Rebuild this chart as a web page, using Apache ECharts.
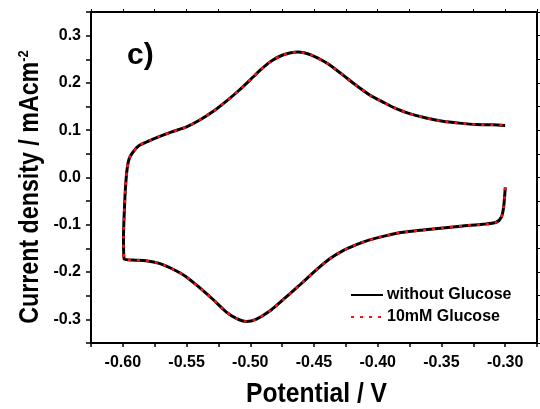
<!DOCTYPE html>
<html>
<head>
<meta charset="utf-8">
<script src="https://cdn.jsdelivr.net/npm/echarts@6/dist/echarts.min.js"></script>
<style>
html,body{margin:0;padding:0;background:#fff;}
#chart{width:540px;height:409px;}
</style>
</head>
<body>
<div id="chart"></div>
<script>
// Potential (V) along the scan, starting at the lower-right end
const potential = [
  -0.2999, -0.3012, -0.3030, -0.3070, -0.3175, -0.3331, -0.3488, -0.3645, -0.3802, -0.3933,
  -0.4063, -0.4167, -0.4272, -0.4377, -0.4480, -0.4586, -0.4627, -0.4745, -0.4850, -0.4955,
  -0.5030, -0.5110, -0.5190, -0.5292, -0.5400, -0.5504, -0.5610, -0.5714, -0.5818, -0.5920,
  -0.5990, -0.5995, -0.5986, -0.5980, -0.5968, -0.5950, -0.5920, -0.5870, -0.5790, -0.5710,
  -0.5610, -0.5500, -0.5400, -0.5290, -0.5190, -0.5090, -0.4980, -0.4926, -0.4847, -0.4745,
  -0.4627, -0.4520, -0.4400, -0.4287, -0.4170, -0.4060, -0.3962, -0.3855, -0.3750, -0.3620,
  -0.3490, -0.3360, -0.3226, -0.3096, -0.3000
];
// Current density (mA cm^-2) without glucose
const withoutGlucose = [
  -0.021, -0.063, -0.084, -0.0946, -0.099, -0.1024, -0.1066, -0.111, -0.116, -0.123,
  -0.132, -0.142, -0.1547, -0.172, -0.195, -0.221, -0.231, -0.259, -0.283, -0.300,
  -0.3045, -0.298, -0.284, -0.258, -0.2324, -0.2097, -0.1935, -0.1815, -0.176, -0.1745,
  -0.172, -0.126, -0.056, -0.024, 0.015, 0.040, 0.054, 0.068, 0.078, 0.087,
  0.097, 0.107, 0.121, 0.140, 0.161, 0.184, 0.212, 0.226, 0.244, 0.259,
  0.2655, 0.259, 0.242, 0.2197, 0.195, 0.174, 0.160, 0.1455, 0.135, 0.1257,
  0.119, 0.115, 0.112, 0.1115, 0.110
];
// Current density (mA cm^-2) with 10 mM glucose (overlaps the curve above)
const withGlucose = [
  -0.021, -0.063, -0.084, -0.0946, -0.099, -0.1024, -0.1066, -0.111, -0.116, -0.123,
  -0.132, -0.142, -0.1547, -0.172, -0.195, -0.221, -0.231, -0.259, -0.283, -0.300,
  -0.3045, -0.298, -0.284, -0.258, -0.2324, -0.2097, -0.1935, -0.1815, -0.176, -0.1745,
  -0.172, -0.126, -0.056, -0.024, 0.015, 0.040, 0.054, 0.068, 0.078, 0.087,
  0.097, 0.107, 0.121, 0.140, 0.161, 0.184, 0.212, 0.226, 0.244, 0.259,
  0.2655, 0.259, 0.242, 0.2197, 0.195, 0.174, 0.160, 0.1455, 0.135, 0.1257,
  0.119, 0.115, 0.112, 0.1115, 0.110
];
const seriesNames = ['without Glucose', '10mM Glucose'];
const xTitle = 'Potential / V';
const yTitleMain = 'Current density / mAcm';
const yTitleSup = '-2';
const panelLabel = 'c)';

const FONT = '"Liberation Sans", Arial, sans-serif';
const pairs = (ys) => potential.map((x, i) => [x, ys[i]]);

const chart = echarts.init(document.getElementById('chart'), null, {renderer: 'canvas'});
const axisLine = {show: true, onZero: false, lineStyle: {color: '#000', width: 2}};

chart.setOption({
  animation: false,
  backgroundColor: '#fff',
  grid: {left: 91, right: 2, top: 12, bottom: 66, containLabel: false},
  xAxis: [{
    type: 'value', min: -0.625, max: -0.275, interval: 0.025, position: 'bottom',
    axisLine: axisLine,
    axisTick: {show: true, inside: false, length: 4, lineStyle: {color: '#000', width: 1.5}},
    splitLine: {show: false},
    axisLabel: {
      margin: 12, color: '#000', fontSize: 16, fontWeight: 'bold', fontFamily: FONT,
      formatter: v => { const k = Math.round(v * 1000); return (k % 50 === 0) ? v.toFixed(2) : ''; }
    }
  }, {
    type: 'value', min: -0.625, max: -0.275, interval: 0.025, position: 'top',
    axisLine: axisLine,
    axisTick: {show: true, inside: false, length: 3, lineStyle: {color: '#000', width: 1}},
    axisLabel: {show: false}, splitLine: {show: false}
  }],
  yAxis: [{
    type: 'value', min: -0.35, max: 0.35, interval: 0.05, position: 'left',
    axisLine: axisLine,
    axisTick: {show: true, inside: false, length: 5, lineStyle: {color: '#000', width: 1.5}},
    splitLine: {show: false},
    axisLabel: {
      margin: 10, color: '#000', fontSize: 16, fontWeight: 'bold', fontFamily: FONT,
      formatter: v => { const k = Math.round(v * 100); return (k % 10 === 0) ? v.toFixed(1) : ''; }
    }
  }, {
    type: 'value', min: -0.35, max: 0.35, interval: 0.05, position: 'right',
    axisLine: axisLine,
    axisTick: {show: true, inside: false, length: 3, lineStyle: {color: '#000', width: 1}},
    axisLabel: {show: false}, splitLine: {show: false}
  }],
  legend: {
    orient: 'vertical', left: 350, top: 287, padding: 0, itemWidth: 32, itemHeight: 14, itemGap: 6,
    itemStyle: {opacity: 0},
    textStyle: {color: '#000', fontSize: 16, fontWeight: 'bold', fontFamily: FONT, lineHeight: 14, padding: [0, 0, 0, -1]},
    data: seriesNames
  },
  graphic: [{
    type: 'text', left: 127, top: 41,
    style: {text: panelLabel, fontSize: 30, fontWeight: 'bold', fontFamily: FONT, fill: '#000'}
  }, {
    type: 'text', x: 246, y: 380, scaleX: 0.88,
    style: {text: xTitle, fontSize: 28, fontWeight: 'bold', fontFamily: FONT, fill: '#000', align: 'left', verticalAlign: 'top'}
  }, {
    type: 'text', x: 31, y: 187, rotation: Math.PI / 2, scaleX: 0.86,
    style: {
      text: '{a|' + yTitleMain + '}{b|' + yTitleSup + '}',
      align: 'center', verticalAlign: 'middle',
      rich: {
        a: {fontSize: 27, fontWeight: 'bold', fontFamily: FONT, fill: '#000', lineHeight: 30},
        b: {fontSize: 15, fontWeight: 'bold', fontFamily: FONT, fill: '#000', verticalAlign: 'top', lineHeight: 30, padding: [0, 0, 12, 0]}
      }
    }
  }],
  series: [{
    name: seriesNames[0], type: 'line', xAxisIndex: 0, yAxisIndex: 0,
    data: pairs(withoutGlucose), symbol: 'none', showSymbol: false, smooth: 0.25,
    lineStyle: {color: '#000', width: 3}, itemStyle: {color: '#000'}, z: 2
  }, {
    name: seriesNames[1], type: 'line', xAxisIndex: 0, yAxisIndex: 0,
    data: pairs(withGlucose), symbol: 'none', showSymbol: false, smooth: 0.25,
    lineStyle: {color: '#ff1010', width: 2.5, type: [3, 6]}, itemStyle: {color: '#ff1010'}, z: 3
  }]
});
</script>
</body>
</html>
